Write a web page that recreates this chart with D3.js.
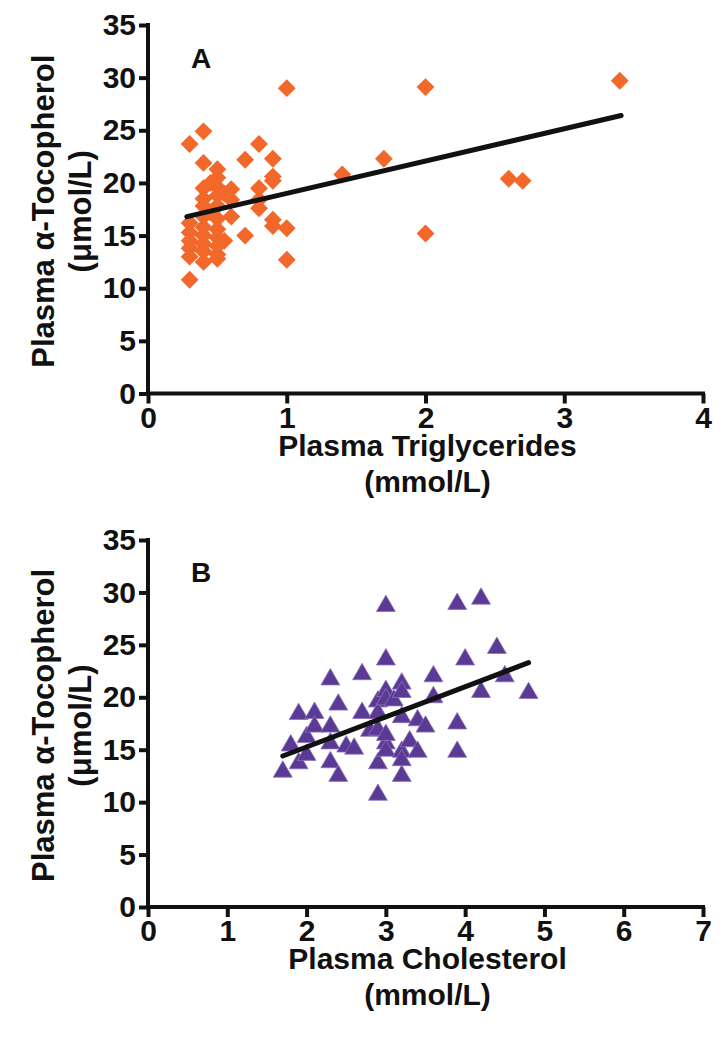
<!DOCTYPE html>
<html>
<head>
<meta charset="utf-8">
<script src="https://cdn.jsdelivr.net/npm/d3@7"></script>
<style>
  html, body { margin: 0; padding: 0; background: #fff; }
  svg text { font-family: "Liberation Sans", Arial, Helvetica, sans-serif; font-weight: bold; fill: #111; }
</style>
</head>
<body>
<svg id="chart" width="728" height="1050"></svg>
<script>
// ---------- DATA ----------
const yTicks = [0, 5, 10, 15, 20, 25, 30, 35];
const xTicksA = [0, 1, 2, 3, 4];
const xTicksB = [0, 1, 2, 3, 4, 5, 6, 7];

// Panel A: Plasma Triglycerides (mmol/L) vs alpha-tocopherol (umol/L)
const trigX = [0.3,0.4,0.4,0.8,0.7,0.9,1.0,2.0,3.4,1.7,1.4,0.9,0.9,2.6,2.7,2.0,1.0,1.0,0.9,0.9,0.7,0.8,0.8,0.8,0.6,0.6,0.6,0.5,0.5,0.5,0.5,0.5,0.5,0.5,0.5,0.5,0.5,0.5,0.4,0.4,0.4,0.4,0.4,0.4,0.4,0.4,0.4,0.3,0.3,0.3,0.3,0.3,0.3,0.45,0.45,0.55,0.55];
const tocA   = [23.7,24.9,21.9,23.7,22.2,22.3,29.0,29.1,29.7,22.3,20.8,20.6,20.2,20.4,20.2,15.2,15.7,12.7,16.5,15.9,15.0,19.5,18.4,17.6,19.4,18.4,16.8,21.3,20.5,19.6,18.8,17.8,16.6,15.6,14.8,14.0,13.2,12.8,19.5,18.5,17.8,16.8,15.8,15.0,14.2,13.5,12.5,16.2,15.3,14.5,13.8,13.0,10.8,20.0,17.2,19.0,14.5];
const fitAX = [0.28, 3.41];
const fitAY = [16.8, 26.4];

// Panel B: Plasma Cholesterol (mmol/L) vs alpha-tocopherol (umol/L)
const cholX = [1.7,1.8,1.9,1.9,2.0,2.0,2.1,2.1,2.3,2.3,2.3,2.3,2.4,2.4,2.5,2.6,2.7,2.7,2.8,2.9,2.9,2.9,2.9,2.9,3.0,3.0,3.0,3.0,3.0,3.0,3.0,3.1,3.2,3.2,3.2,3.2,3.2,3.2,3.3,3.4,3.4,3.5,3.6,3.6,3.9,3.9,3.9,4.0,4.2,4.2,4.4,4.5,4.8];
const tocB  = [12.9,15.4,18.4,13.7,14.5,16.2,18.5,17.2,21.7,17.2,15.6,13.8,19.3,12.5,15.3,15.1,22.2,18.5,16.8,19.6,13.7,10.7,18.5,16.9,28.7,23.6,20.6,19.8,15.6,16.4,14.9,19.7,21.3,20.5,18.1,14.8,14.0,12.5,15.8,17.8,14.8,17.2,22.0,20.0,28.9,17.5,14.8,23.6,29.4,20.5,24.7,22.0,20.4];
const fitBX = [1.7, 4.8];
const fitBY = [14.4, 23.3];

const panelLabels = ["A", "B"];
const xTitles = [["Plasma Triglycerides", "(mmol/L)"], ["Plasma Cholesterol", "(mmol/L)"]];
const yTitle = ["Plasma α-Tocopherol", "(μmol/L)"];

// ---------- DRAW ----------
const svg = d3.select("#chart");

const panels = [
  { xs: trigX, ys: tocA, fx: fitAX, fy: fitAY, xTicks: xTicksA, xMax: 4, top: 25, bottom: 393.5, color: "#f1682a", shape: "diamond" },
  { xs: cholX, ys: tocB, fx: fitBX, fy: fitBY, xTicks: xTicksB, xMax: 7, top: 540, bottom: 907, color: "#5b3a96", shape: "triangle" }
];

panels.forEach((p, i) => {
  const x = d3.scaleLinear().domain([0, p.xMax]).range([148, 703]);
  const y = d3.scaleLinear().domain([0, 35]).range([p.bottom, p.top]);
  const g = svg.append("g");

  // axes
  const yAxis = d3.axisLeft(y).tickValues(yTicks).tickSize(9).tickPadding(3).tickFormat(d3.format("d"));
  const gy = g.append("g").attr("transform", `translate(${x(0)},0)`).call(yAxis);
  const xAxis = d3.axisBottom(x).tickValues(p.xTicks).tickSize(10).tickPadding(3).tickFormat(d3.format("d"));
  const gx = g.append("g").attr("transform", `translate(0,${y(0)})`).call(xAxis);
  [gx, gy].forEach(ax => {
    ax.selectAll(".tick line").attr("stroke", "#111").attr("stroke-width", 4);
    ax.selectAll(".tick text").style("font-size", "30px").attr("fill", "#111");
    ax.select(".domain").remove();
  });
  g.append("line").attr("x1", x(0)).attr("x2", x(0)).attr("y1", y(35) - 2).attr("y2", y(0) + 2)
    .attr("stroke", "#111").attr("stroke-width", 4);
  g.append("line").attr("x1", x(0) - 2).attr("x2", x(p.xMax) + 2).attr("y1", y(0)).attr("y2", y(0))
    .attr("stroke", "#111").attr("stroke-width", 4);

  // points
  const pts = p.xs.map((v, k) => ({ x: v, y: p.ys[k] }));
  if (p.shape === "diamond") {
    const sym = d3.symbol().type(d3.symbolSquare).size(160);
    g.append("g").selectAll("path").data(pts).join("path")
      .attr("d", sym)
      .attr("transform", d => `translate(${x(d.x)},${y(d.y)}) rotate(45)`)
      .attr("fill", p.color);
  } else {
    const sym = d3.symbol().type(d3.symbolTriangle).size(155);
    g.append("g").selectAll("path").data(pts).join("path")
      .attr("d", sym)
      .attr("transform", d => `translate(${x(d.x)},${y(d.y)})`)
      .attr("fill", p.color)
      .attr("stroke", "#8a72b8").attr("stroke-width", 0.8);
  }

  // fit line
  const fit = p.fx.map((v, k) => ({ x: v, y: p.fy[k] }));
  g.append("path").datum(fit)
    .attr("d", d3.line().x(d => x(d.x)).y(d => y(d.y)))
    .attr("stroke", "#111").attr("stroke-width", 5).attr("fill", "none").attr("stroke-linecap", "round");

  // panel label
  g.append("text").attr("x", 201).attr("y", y(0) - 325.5).attr("text-anchor", "middle")
    .style("font-size", "28px").text(panelLabels[i]);

  // x title
  const midX = (x(0) + x(p.xMax)) / 2 + 2;
  g.append("text").attr("x", midX).attr("y", y(0) + 62).attr("text-anchor", "middle")
    .style("font-size", "30px").text(xTitles[i][0]);
  g.append("text").attr("x", midX).attr("y", y(0) + 98).attr("text-anchor", "middle")
    .style("font-size", "30px").text(xTitles[i][1]);

  // y title
  const midY = (y(0) + y(35)) / 2 + 2;
  g.append("text").attr("transform", `translate(54,${midY}) rotate(-90)`).attr("text-anchor", "middle")
    .style("font-size", "31px").text(yTitle[0]);
  g.append("text").attr("transform", `translate(91,${midY}) rotate(-90)`).attr("text-anchor", "middle")
    .style("font-size", "31px").text(yTitle[1]);
});
</script>
</body>
</html>
